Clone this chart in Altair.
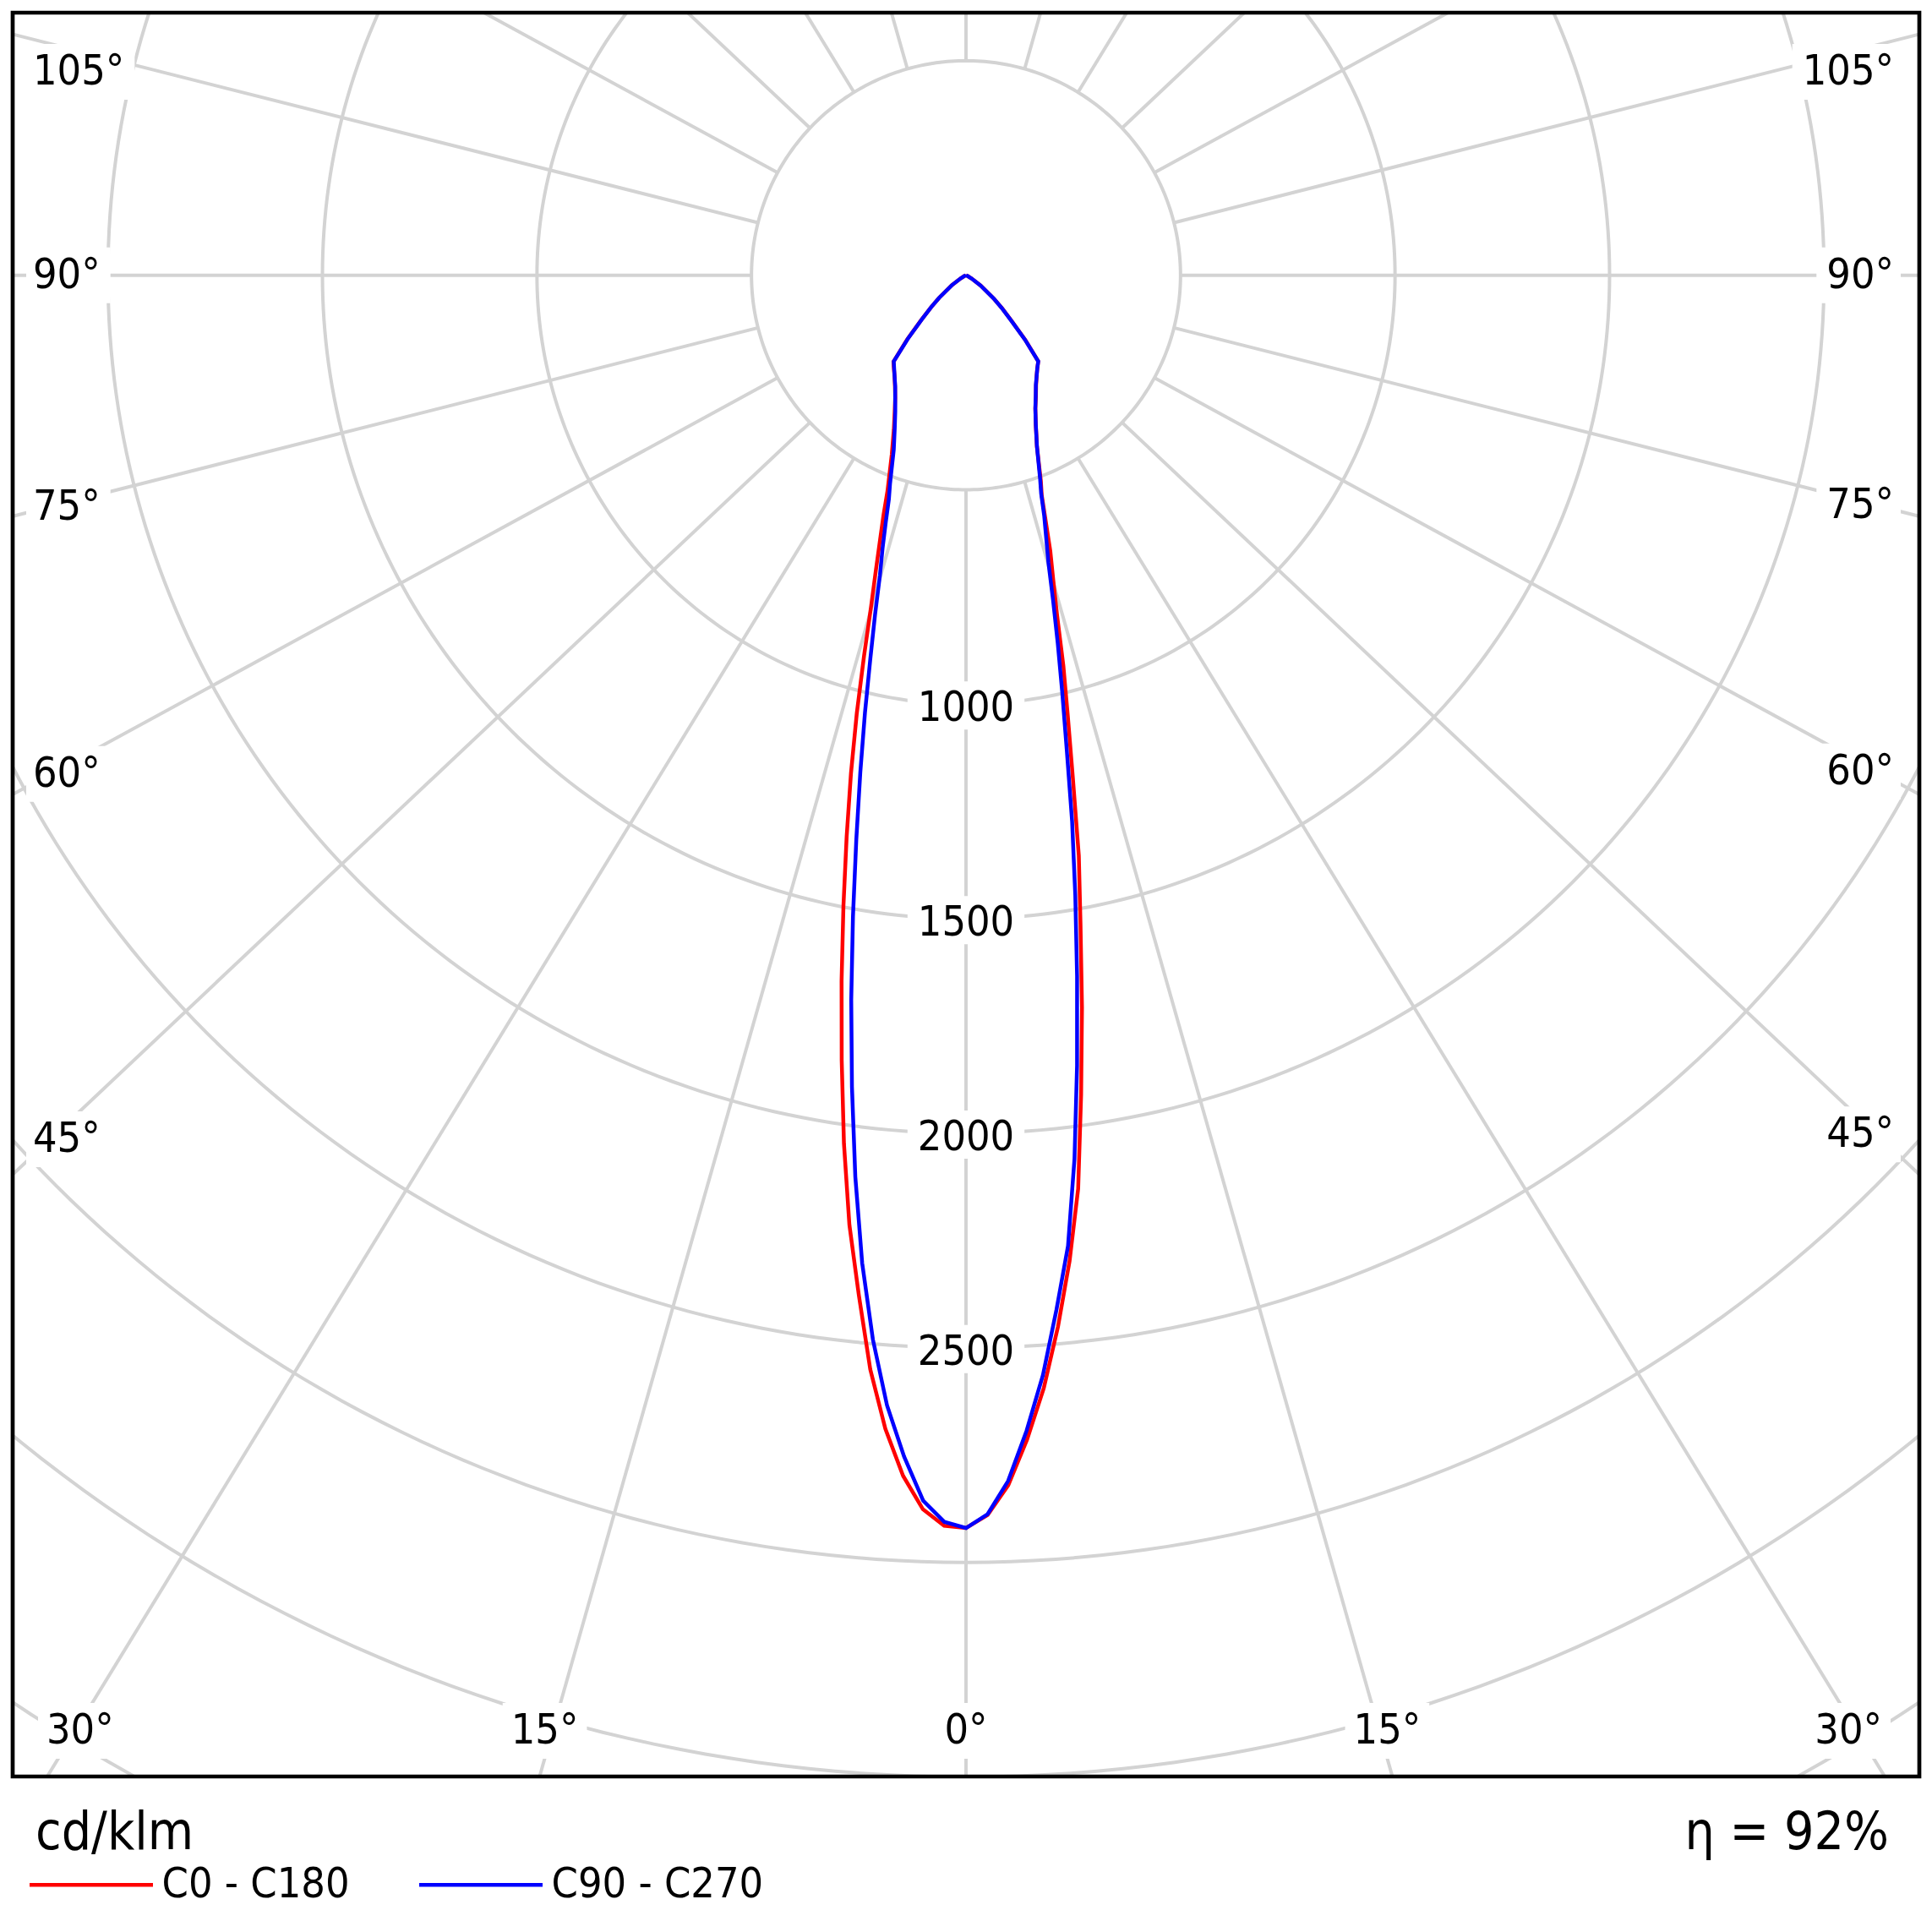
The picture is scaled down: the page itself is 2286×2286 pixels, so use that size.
import math
import pandas as pd
import altair as alt

# ---------------- data (cd/klm) ----------------
gamma = [0, 1, 2, 3, 4, 5, 6, 7, 8, 9, 10, 11, 12, 13, 14, 15, 16, 17, 18, 19, 20,
         22.5, 25, 27.5, 30, 32.5, 35, 37.5, 40, 42.5, 45, 47.5, 50,
         55, 60, 65, 70, 75, 80, 85, 90]
c0 = [2920, 2890, 2822, 2718, 2600, 2460, 2310, 2145, 1928, 1728, 1537, 1378, 1198, 1055, 938, 820, 737, 672, 600, 542, 510,
      432, 385, 350, 326, 304, 287, 273, 262, 205, 150, 115, 85,
      42, 15, 4, 0, 0, 0, 0, 0]
c180 = [2920, 2915, 2878, 2802, 2695, 2560, 2390, 2230, 2044, 1852, 1670, 1497, 1338, 1192, 1052, 918, 802, 718, 648, 590, 535,
        452, 398, 360, 330, 308, 290, 276, 263, 203, 148, 110, 82,
        41, 14, 4, 0, 0, 0, 0, 0]
c90 = [2920, 2888, 2812, 2697, 2570, 2420, 2275, 2075, 1860, 1655, 1467, 1296, 1129, 997, 884, 784, 697, 639, 590, 538, 505,
       432, 385, 350, 325, 303, 287, 273, 262, 203, 148, 113, 84,
       41, 15, 4, 0, 0, 0, 0, 0]
c270 = [2920, 2906, 2858, 2757, 2640, 2490, 2315, 2117, 1910, 1710, 1517, 1340, 1185, 1047, 922, 819, 728, 665, 605, 552, 518,
        440, 393, 357, 330, 307, 290, 275, 262, 200, 145, 110, 82,
        40, 14, 4, 0, 0, 0, 0, 0]
series_names = ["C0 - C180", "C90 - C270"]
series_colors = ["#ff0000", "#0000ff"]
ring_values = [500, 1000, 1500, 2000, 2500, 3000, 3500, 4000]
ring_labels = [1000, 1500, 2000, 2500]
angle_ticks = [0, 15, 30, 45, 60, 75, 90, 105]
unit_text = ["cd/klm"]
efficiency = [92]

# ---------------- geometry ----------------
W, H = 2256, 2087
X_MIN, X_MAX = -2222.0, 2222.0
PX = W / (X_MAX - X_MIN)          # px per cd
Y_MAX = 612.0
Y_MIN = Y_MAX - H / PX
SKEW = 1.06                        # radial lines are drawn slightly stretched sideways
LABEL_SKEW = 1.08
FONT = "DejaVu Sans Condensed, Liberation Sans, sans-serif"
FS = 50
BIG = 62
GRID = "#d3d3d3"


def px2x(px):
    return X_MIN + px / PX


def px2y(py):
    return Y_MAX - py / PX


def X(f):
    return alt.X(f, type="quantitative", axis=None,
                 scale=alt.Scale(domain=[X_MIN, X_MAX], nice=False, zero=False))


def Y(f):
    return alt.Y(f, type="quantitative", axis=None,
                 scale=alt.Scale(domain=[Y_MIN, Y_MAX], nice=False, zero=False))


# curves table
rows = []
for name, right, left in [(series_names[0], c0, c180), (series_names[1], c90, c270)]:
    for g, ir, il in zip(gamma, right, left):
        rows.append({"series": name, "side": 1, "gamma": g, "I": ir})
        rows.append({"series": name, "side": -1, "gamma": g, "I": il})
curves_df = pd.DataFrame(rows)

# grid rings
ring_rows = []
for r in ring_values:
    for t in range(0, 361):
        a = math.radians(t)
        ring_rows.append({"ring": r, "t": t, "x": r * math.sin(a), "y": r * math.cos(a)})
rings_df = pd.DataFrame(ring_rows)

# radial lines
ray_rows = []
for a in range(0, 360, 15):
    rad = math.radians(a)
    dx, dy = SKEW * math.sin(rad), -math.cos(rad)
    n = math.hypot(dx, dy)
    dx, dy = dx / n, dy / n
    ray_rows.append({"a": a, "x1": 500 * dx, "y1": 500 * dy, "x2": 6000 * dx, "y2": 6000 * dy})
rays_df = pd.DataFrame(ray_rows)

# angle labels (placed where the spokes meet an inset box, kept inside the frame)
yb = px2y(H - 54)
lab_rows = []
for a in angle_ticks:
    rad = math.radians(a)
    txt = f"{a}°"
    w = FS * (0.572 * len(str(a)) + 0.45)
    for sd in ([1] if a == 0 else [-1, 1]):
        side_label = False
        if a > 0:
            x_edge = px2x(24) if sd < 0 else px2x(W - 30)
            t = abs(x_edge) / (LABEL_SKEW * math.sin(rad))
            y_at = -math.cos(rad) * t
            side_label = y_at > yb
        if side_label:
            x, y = x_edge, min(y_at, px2y(70))
            al = "left" if sd < 0 else "right"
        else:
            t = -yb / math.cos(rad)
            x, y = sd * LABEL_SKEW * math.sin(rad) * t, yb
            x = min(max(x, px2x(40 + w / 2)), px2x(W - 44 - w / 2))
            al = "center"
        if al == "left":
            bx1, bx2 = x - 8 / PX, x + (w + 12) / PX
        elif al == "right":
            bx1, bx2 = x - (w + 12) / PX, x + 8 / PX
        else:
            bx1, bx2 = x - (w / 2 + 10) / PX, x + (w / 2 + 10) / PX
        lab_rows.append({"text": txt, "al": al, "x": x, "y": y,
                         "bx1": bx1, "bx2": bx2, "by1": y - 33 / PX, "by2": y + 33 / PX})
labels_df = pd.DataFrame(lab_rows)

ival_rows = []
for v in ring_labels:
    w = FS * 0.572 * len(str(v))
    ival_rows.append({"text": str(v), "x": 0.0, "y": -float(v),
                      "bx1": -(w / 2 + 12) / PX, "bx2": (w / 2 + 12) / PX,
                      "by1": -v - 30 / PX, "by2": -v + 27 / PX})
ivals_df = pd.DataFrame(ival_rows)

# ---------------- layers ----------------
rings = alt.Chart(rings_df).mark_line(clip=True, color=GRID, strokeWidth=4).encode(
    x=X("x"), y=Y("y"), detail="ring:N", order="t:Q")

rays = alt.Chart(rays_df).mark_rule(clip=True, color=GRID, strokeWidth=4).encode(
    x=X("x1"), y=Y("y1"), x2="x2:Q", y2="y2:Q")

lab_boxes = alt.Chart(labels_df).mark_rect(color="white").encode(
    x=X("bx1"), x2="bx2:Q", y=Y("by1"), y2="by2:Q")

lab_texts = [
    alt.Chart(labels_df).transform_filter(f"datum.al == '{al}'").mark_text(
        align=al, baseline="middle", font=FONT, fontSize=FS, color="black").encode(
        x=X("x"), y=Y("y"), text="text:N")
    for al in ["left", "right", "center"]
]

ival_boxes = alt.Chart(ivals_df).mark_rect(color="white").encode(
    x=X("bx1"), x2="bx2:Q", y=Y("by1"), y2="by2:Q")

ival_text = alt.Chart(ivals_df).mark_text(
    align="center", baseline="middle", font=FONT, fontSize=FS, color="black", dy=5).encode(
    x=X("x"), y=Y("y"), text="text:N")

curves = alt.Chart(curves_df).transform_calculate(
    x="datum.side * datum.I * sin(datum.gamma * PI / 180)",
    y="-datum.I * cos(datum.gamma * PI / 180)",
    key="datum.side * datum.gamma",
).mark_line(clip=True, strokeWidth=4.5).encode(
    x=X("x"), y=Y("y"), order="key:Q",
    color=alt.Color("series:N",
                    scale=alt.Scale(domain=series_names, range=series_colors),
                    legend=alt.Legend(title=None, orient="none", legendX=17.5, legendY=2139.5,
                                      direction="horizontal", symbolType="stroke",
                                      symbolSize=21316, symbolStrokeWidth=4.5,
                                      labelFont=FONT, labelFontSize=FS, labelColor="black",
                                      labelLimit=1000, labelOffset=8, columnPadding=72,
                                      padding=0)))

frame = alt.Chart(pd.DataFrame({"f": [0]})).mark_rect(
    filled=False, color="black", strokeWidth=4.7).encode(
    x=alt.value(0), x2=alt.value(W), y=alt.value(0), y2=alt.value(H))

unit = alt.Chart(pd.DataFrame({"u": unit_text})).mark_text(
    align="left", baseline="alphabetic", font=FONT, fontSize=BIG, color="black").encode(
    x=alt.value(27), y=alt.value(2173), text="u:N")

eta = alt.Chart(pd.DataFrame({"eta": efficiency})).transform_calculate(
    label="'η = ' + datum.eta + '%'").mark_text(
    align="right", baseline="alphabetic", font=FONT, fontSize=BIG, color="black").encode(
    x=alt.value(W - 36), y=alt.value(2173), text="label:N")

chart = alt.layer(rings, rays, lab_boxes, *lab_texts, ival_boxes, ival_text, curves, frame,
                  unit, eta).properties(
    width=W, height=H, padding={"left": 7, "top": 7, "right": 7, "bottom": 180},
    autosize=alt.AutoSizeParams(type="none"),
    background="white",
).configure_view(stroke=None)

chart.save("out.html", embed_options={"renderer": "svg", "actions": False})
